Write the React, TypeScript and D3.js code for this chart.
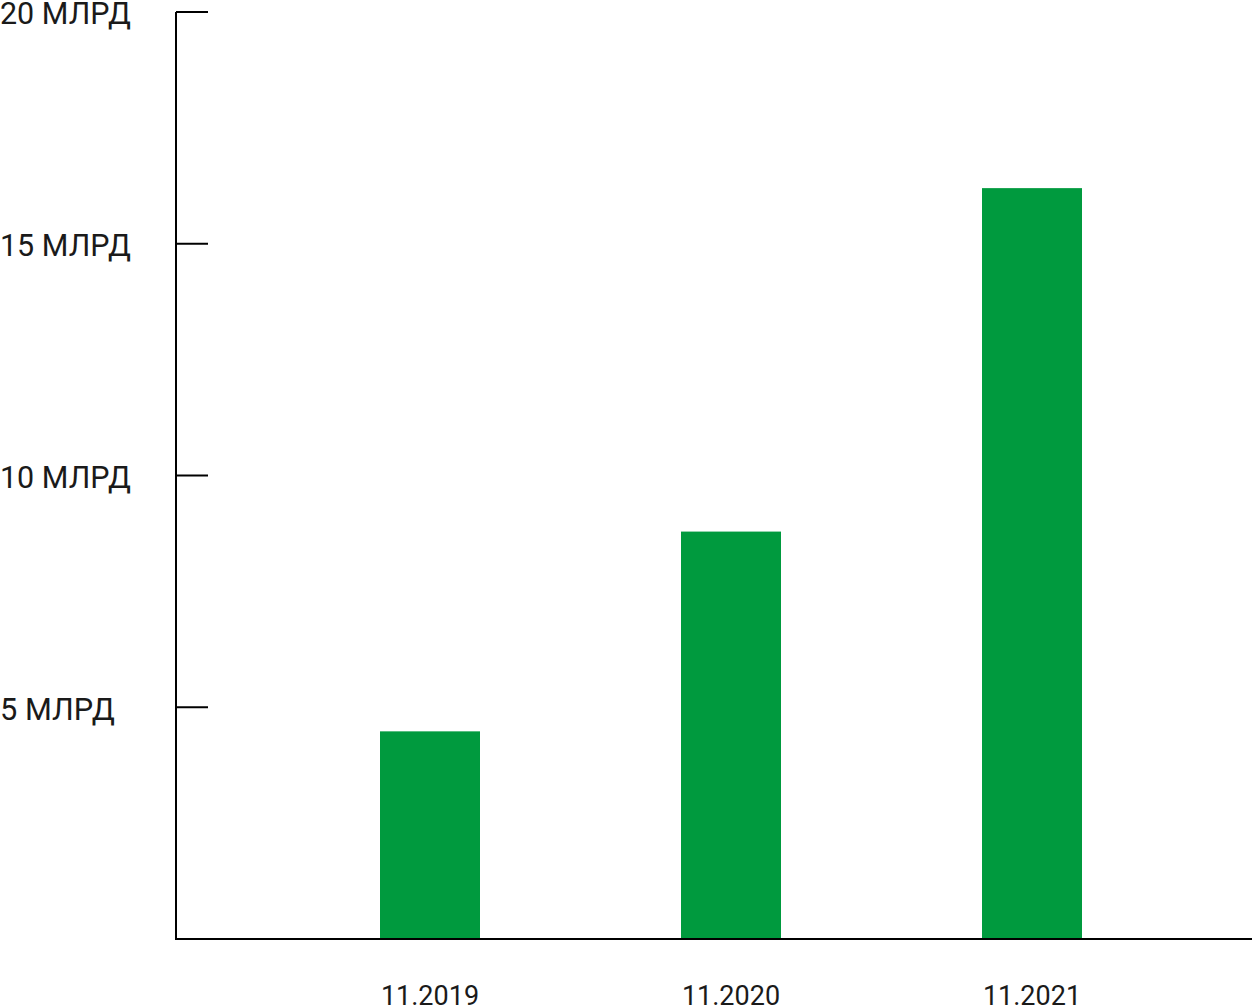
import React from "react";
import * as d3 from "d3";

const categories = ["11.2019", "11.2020", "11.2021"];
const values = [4.48, 8.79, 16.2];
const yTicks = [5, 10, 15, 20];
const tickLabel = (v: number) => `${v} МЛРД`;

export default function App() {
  const W = 1252, H = 1008;
  const axisX = 176;
  const y = d3.scaleLinear().domain([0, 20]).range([939, 12]);
  const x = d3.scalePoint<string>().domain(categories).range([430, 1032]);
  const barW = 100;
  const font = "Roboto, sans-serif";
  const yFs = 32;
  const xFs = 27;
  return (
    <svg width={W} height={H} style={{ position: "absolute", left: 0, top: 0 }} fontFamily={font}>
      <rect width={W} height={H} fill="#fff" />
      {values.map((v, i) => (
        <rect key={i} x={x(categories[i])! - barW / 2} y={y(v)} width={barW} height={y(0) - y(v)} fill="#009a3e" />
      ))}
      <line x1={axisX} x2={axisX} y1={y(20)} y2={y(0) + 1} stroke="#000" strokeWidth={2} />
      <line x1={axisX - 1} x2={1252} y1={y(0)} y2={y(0)} stroke="#000" strokeWidth={2} />
      {yTicks.map((t) => (
        <g key={t}>
          <line x1={axisX} x2={208} y1={y(t)} y2={y(t)} stroke="#000" strokeWidth={2} />
          <text x={0} y={y(t) + 1} dy={yFs * 0.355} fontSize={yFs} fill="#1a1a1a" textLength={t >= 10 ? 131 : 115} lengthAdjust="spacingAndGlyphs">{tickLabel(t)}</text>
        </g>
      ))}
      {categories.map((c) => (
        <text key={c} x={x(c)} y={1005} textAnchor="middle" fontSize={xFs} fill="#1a1a1a">{c}</text>
      ))}
    </svg>
  );
}
